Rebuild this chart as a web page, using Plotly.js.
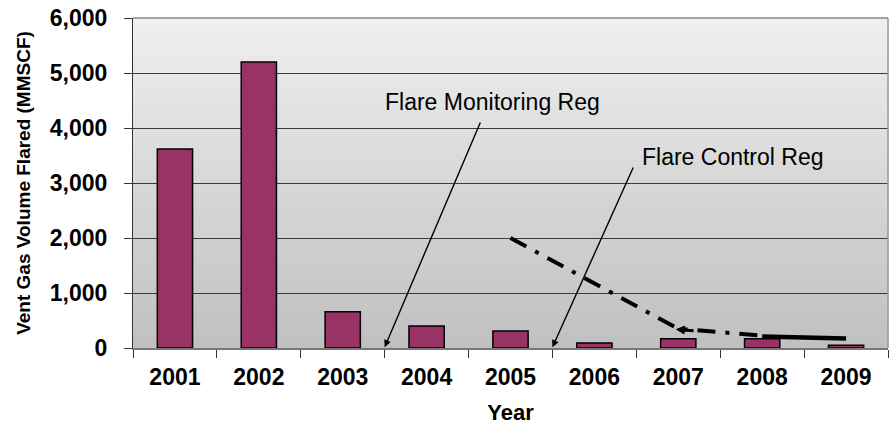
<!DOCTYPE html>
<html>
<head>
<meta charset="utf-8">
<script src="https://cdn.plot.ly/plotly-3.0.1.min.js"></script>
<style>html,body{margin:0;padding:0;background:#fff;}#chart{width:889px;height:425px;}</style>
</head>
<body>
<div id="chart"></div>
<script>
// ---- data ----
const years = ['2001','2002','2003','2004','2005','2006','2007','2008','2009'];
const ventGasFlared = [3620, 5200, 660, 400, 310, 90, 170, 170, 50];
const trendDashX = ['2005','2007','2008'];
const trendDashY = [2000, 350, 225];
const trendSolidX = ['2008','2009'];
const trendSolidY = [210, 175];
const yTickVals = [0, 1000, 2000, 3000, 4000, 5000, 6000];

const FONT = 'Arial, "Liberation Sans", sans-serif';

// gradient background bands
const shapes = [];
const nBands = 60;
const cTop = 239, cBot = 192;
for (let i = 0; i < nBands; i++) {
  const f = (i + 0.5) / nBands;
  const c = Math.round(cBot + (cTop - cBot) * f);
  shapes.push({
    type: 'rect', xref: 'paper', yref: 'paper', layer: 'below',
    x0: 0, x1: 1, y0: i / nBands, y1: (i + 1) / nBands + 0.002,
    fillcolor: `rgb(${c},${c},${c})`, line: {width: 0}
  });
}
// light right / top border of plot area
shapes.push({type: 'line', xref: 'paper', yref: 'paper', x0: 1, x1: 1, y0: 0, y1: 1,
  line: {color: '#999', width: 1.5}});
shapes.push({type: 'line', xref: 'paper', yref: 'paper', x0: 0, x1: 1, y0: 1, y1: 1,
  line: {color: '#888', width: 1.5}});

const traces = [
  {
    type: 'bar', x: years, y: ventGasFlared,
    marker: {color: '#993366', line: {color: '#000', width: 1.5}},
    hoverinfo: 'x+y', showlegend: false
  },
  {
    type: 'scatter', mode: 'lines', x: trendDashX, y: trendDashY,
    line: {color: '#000', width: 4, dash: '18px,10px,4px,10px'},
    showlegend: false, hoverinfo: 'skip'
  },
  {
    type: 'scatter', mode: 'lines', x: trendSolidX, y: trendSolidY,
    line: {color: '#000', width: 4.5},
    showlegend: false, hoverinfo: 'skip'
  }
];

const layout = {
  width: 889, height: 425,
  margin: {l: 133, r: 1, t: 18, b: 77},
  paper_bgcolor: '#fff', plot_bgcolor: '#d7d7d7',
  font: {family: FONT, color: '#000'},
  bargap: 0.58,
  shapes: shapes,
  xaxis: {
    type: 'category', tickson: 'boundaries',
    ticks: 'outside', ticklen: 8, tickcolor: '#333', tickwidth: 1,
    showline: true, linecolor: '#777', linewidth: 1.5,
    mirror: false, showgrid: false,
    tickfont: {family: FONT, size: 23, color: '#000', weight: 'bold'},
    ticklabelstandoff: 8,
    title: {text: '<b>Year</b>', font: {family: FONT, size: 22, color: '#000'}, standoff: 16},
    fixedrange: true
  },
  yaxis: {
    range: [0, 6000], tickvals: yTickVals, tickformat: ',',
    ticks: 'outside', ticklen: 8, tickcolor: '#333',
    showline: true, linecolor: '#333', linewidth: 1,
    showgrid: true, gridcolor: '#3a3a3a', gridwidth: 1,
    zeroline: false,
    tickfont: {family: FONT, size: 23, color: '#000', weight: 'bold'},
    ticklabelstandoff: 12,
    title: {text: '<b>Vent Gas Volume Flared (MMSCF)</b>', font: {family: FONT, size: 19, color: '#000'}, standoff: 14},
    fixedrange: true
  },
  annotations: [
    {x: 3.79, y: 4473, xref: 'x', yref: 'y', text: 'Flare Monitoring Reg', showarrow: false,
     font: {family: FONT, size: 23, color: '#000'}},
    {x: 6.657, y: 3473, xref: 'x', yref: 'y', text: 'Flare Control Reg', showarrow: false,
     font: {family: FONT, size: 23, color: '#000'}},
    {x: 2.5, y: 15, xref: 'x', yref: 'y', axref: 'x', ayref: 'y', ax: 3.648, ay: 4127,
     text: '', showarrow: true, arrowhead: 2, arrowsize: 1, arrowwidth: 1.4, arrowcolor: '#000'},
    {x: 4.5, y: 15, xref: 'x', yref: 'y', axref: 'x', ayref: 'y', ax: 5.471, ay: 3309,
     text: '', showarrow: true, arrowhead: 2, arrowsize: 1, arrowwidth: 1.4, arrowcolor: '#000'},
    {x: 5.97, y: 340, xref: 'x', yref: 'y', axref: 'x', ayref: 'y', ax: 6.2, ay: 310,
     text: '', showarrow: true, arrowhead: 2, arrowsize: 0.6, arrowwidth: 3, arrowcolor: '#000'}
  ]
};

Plotly.newPlot('chart', traces, layout, {displayModeBar: false, staticPlot: true});
</script>
</body>
</html>
